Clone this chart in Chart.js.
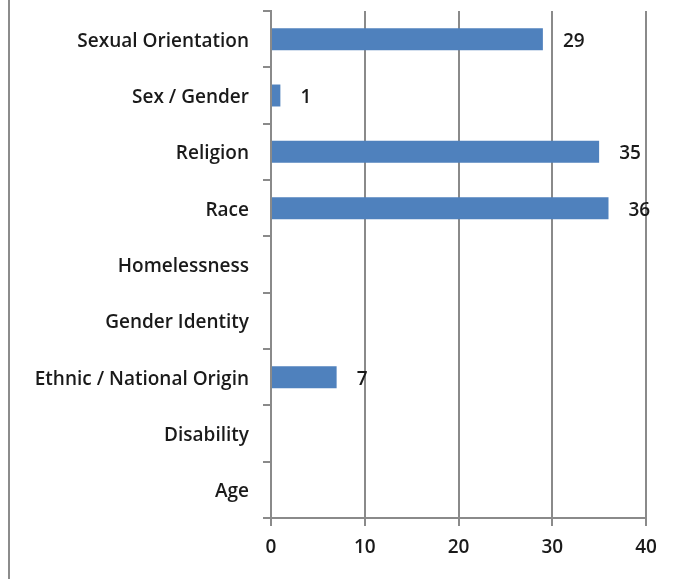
<!DOCTYPE html>
<html>
<head>
<meta charset="utf-8">
<script src="https://cdn.jsdelivr.net/npm/chart.js@4/dist/chart.umd.min.js"></script>
<style>
  html, body { margin: 0; padding: 0; background: #fff; }
  #wrap { position: relative; width: 680px; height: 579px; }
  #frame { position: absolute; left: 8px; top: 0; width: 2px; height: 579px; background: #8c8c8c; }
  canvas { position: absolute; left: 0; top: 0; }
</style>
</head>
<body>
<div id="wrap">
  <div id="frame"></div>
  <canvas id="c" width="680" height="579"></canvas>
</div>
<script>
// Incident counts by bias category
const categories = [
  'Sexual Orientation', 'Sex / Gender', 'Religion', 'Race', 'Homelessness',
  'Gender Identity', 'Ethnic / National Origin', 'Disability', 'Age'
];
const counts = [29, 1, 35, 36, 0, 0, 7, 0, 0];
const xTicks = [0, 10, 20, 30, 40];

const FONT = "'Open Sans', 'Liberation Sans', sans-serif";
const GRID = '#8a8a8a';
const TEXT = '#1a1a1a';
const FONT_SIZE = 19;
const FONT_WEIGHT = 600;

// Writes each non-zero count just past the end of its bar
const valueLabels = {
  id: 'valueLabels',
  afterDatasetsDraw(chart) {
    const { ctx } = chart;
    const meta = chart.getDatasetMeta(0);
    ctx.save();
    ctx.font = FONT_WEIGHT + ' ' + FONT_SIZE + 'px ' + FONT;
    ctx.fillStyle = TEXT;
    ctx.textAlign = 'left';
    ctx.textBaseline = 'middle';
    meta.data.forEach((bar, i) => {
      const v = counts[i];
      if (!v) return;
      ctx.fillText(String(v), bar.x + 20, bar.y + 2);
    });
    ctx.restore();
  }
};

const tickFont = { family: FONT, size: FONT_SIZE, weight: FONT_WEIGHT };

new Chart(document.getElementById('c'), {
  type: 'bar',
  data: {
    labels: categories,
    datasets: [{
      data: counts,
      backgroundColor: '#4f81bd',
      borderWidth: 0,
      categoryPercentage: 1,
      barPercentage: 0.39
    }]
  },
  options: {
    indexAxis: 'y',
    responsive: false,
    animation: false,
    events: [],
    layout: { padding: { top: 11, right: 34, bottom: 0, left: 0 } },
    plugins: { legend: { display: false }, tooltip: { enabled: false } },
    scales: {
      x: {
        min: 0, max: 40,
        afterBuildTicks(scale) { scale.ticks = xTicks.map(v => ({ value: v })); },
        afterFit(scale) { scale.height = 61; },
        grid: { color: GRID, lineWidth: 2, tickLength: 8, drawOnChartArea: true },
        border: { color: GRID, width: 2 },
        ticks: { color: TEXT, font: tickFont, padding: 10 }
      },
      y: {
        afterFit(scale) { scale.width = 271; scale.paddingTop = 0; scale.paddingBottom = 0; },
        grid: { offset: true, color: GRID, lineWidth: 2, tickLength: 8, drawOnChartArea: false },
        border: { color: GRID, width: 2 },
        ticks: { color: TEXT, font: tickFont, padding: 14, labelOffset: 2 }
      }
    }
  },
  plugins: [valueLabels]
});
</script>
</body>
</html>
